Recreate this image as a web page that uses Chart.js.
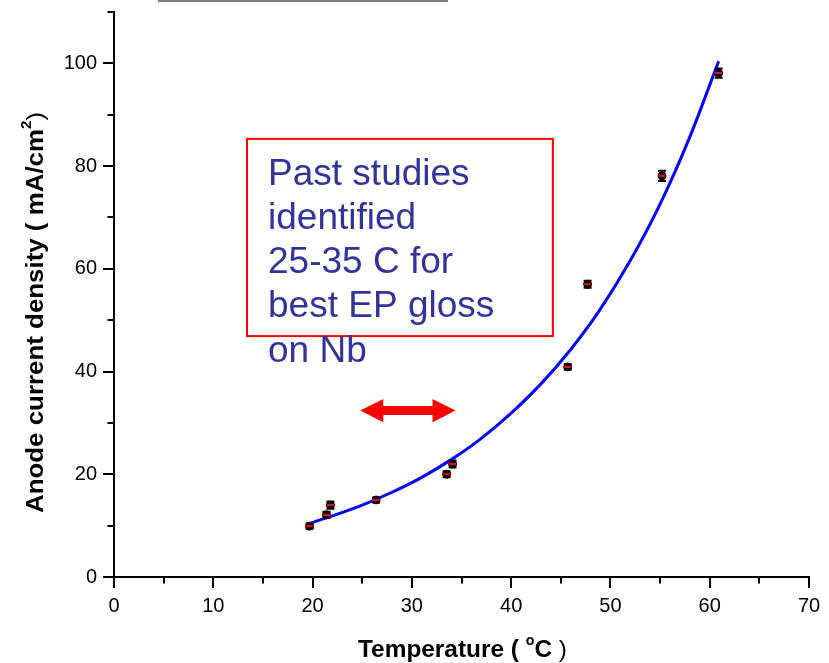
<!DOCTYPE html>
<html>
<head>
<meta charset="utf-8">
<title>Anode current density vs temperature</title>
<script src="https://cdn.jsdelivr.net/npm/chart.js@4.4.0/dist/chart.umd.min.js"></script>
<style>
    html, body { margin: 0; padding: 0; background: #fff; }
    #wrap { width: 829px; height: 663px; }
</style>
</head>
<body>
<div id="wrap"><canvas id="densityChart" width="829" height="663"></canvas></div>
<script>
// --- Data ---
const temperatureC = [19.7, 21.4, 21.8, 26.4, 33.5, 34.1, 45.7, 47.7, 55.2, 60.9];
const currentDensity = [9.9, 12.1, 14.0, 15.0, 20.0, 22.0, 40.9, 57.0, 78.1, 98.1];
const currentError = [0.5, 0.6, 0.7, 0.5, 0.6, 0.7, 0.5, 0.7, 1.0, 0.9];

// fitted curve, sampled along the blue line
const fitTemperature = [19.8, 22, 25, 28, 31, 34, 37, 40, 43, 46, 49, 52, 55, 58, 60.9];
const fitDensity = [10.5, 11.9, 14.0, 16.5, 19.4, 22.9, 27.0, 31.9, 37.6, 44.3, 52.2, 61.6, 72.6, 85.7, 100.4];

// axis ticks
const xMajorTicks = [0, 10, 20, 30, 40, 50, 60, 70];
const xMinorTicks = [5, 15, 25, 35, 45, 55, 65];
const yMajorTicks = [0, 20, 40, 60, 80, 100];
const yMinorTicks = [10, 30, 50, 70, 90, 110];

// note box and arrow
const noteLines = ['Past studies', 'identified', '25-35 C for', 'best EP gloss', 'on Nb'];
const noteBox = { x1: 13.4, x2: 44.2, y1: 85.3, y2: 46.9 };
const arrowSpan = { x1: 24.8, x2: 34.4, y: 32.4 };

const FONT = "'Liberation Sans', Arial, Helvetica, sans-serif";

// draws a list of text pieces on one baseline, stretched to a target length
function drawPieces(ctx, pieces, target) {
    let total = 0;
    pieces.forEach(p => { ctx.font = p.font; p.w = ctx.measureText(p.text).width; total += p.w; });
    const sx = target / total;
    ctx.scale(sx, 1);
    let x = 0;
    pieces.forEach(p => {
        ctx.font = p.font;
        ctx.fillText(p.text, x, p.dy || 0);
        x += p.w;
    });
}

const overlay = {
    id: 'overlay',
    afterDatasetsDraw(chart) {
        const ctx = chart.ctx;
        const xs = chart.scales.x, ys = chart.scales.y;
        ctx.save();
        temperatureC.forEach((t, i) => {
            const px = xs.getPixelForValue(t);
            const pyTop = ys.getPixelForValue(currentDensity[i] + currentError[i]);
            const pyBot = ys.getPixelForValue(currentDensity[i] - currentError[i]);
            const py = ys.getPixelForValue(currentDensity[i]);
            ctx.strokeStyle = '#000';
            ctx.lineWidth = 2;
            ctx.beginPath();
            ctx.moveTo(px - 4, pyTop); ctx.lineTo(px + 4, pyTop);
            ctx.moveTo(px - 4, pyBot); ctx.lineTo(px + 4, pyBot);
            ctx.moveTo(px, pyTop); ctx.lineTo(px, pyBot);
            ctx.stroke();
            ctx.strokeStyle = '#ff0000';
            ctx.beginPath();
            ctx.moveTo(px - 3.5, py); ctx.lineTo(px + 3.5, py);
            ctx.stroke();
        });
        ctx.restore();
    },
    afterDraw(chart) {
        const ctx = chart.ctx;
        const xs = chart.scales.x, ys = chart.scales.y;
        const area = chart.chartArea;
        ctx.save();

        // tick marks (outward)
        ctx.strokeStyle = '#000';
        ctx.lineWidth = 2;
        ctx.beginPath();
        xMajorTicks.forEach(v => { const p = Math.round(xs.getPixelForValue(v)); ctx.moveTo(p, area.bottom); ctx.lineTo(p, area.bottom + 11); });
        xMinorTicks.forEach(v => { const p = Math.round(xs.getPixelForValue(v)); ctx.moveTo(p, area.bottom); ctx.lineTo(p, area.bottom + 6.5); });
        yMajorTicks.forEach(v => { const p = Math.round(ys.getPixelForValue(v)); ctx.moveTo(area.left, p); ctx.lineTo(area.left - 11, p); });
        yMinorTicks.forEach(v => { const p = Math.round(ys.getPixelForValue(v)); ctx.moveTo(area.left, p); ctx.lineTo(area.left - 6.5, p); });
        ctx.stroke();

        // stray gray rule at the very top
        ctx.fillStyle = '#808080';
        ctx.fillRect(158, 0, 290, 2);

        // note box
        const bx1 = xs.getPixelForValue(noteBox.x1), bx2 = xs.getPixelForValue(noteBox.x2);
        const by1 = ys.getPixelForValue(noteBox.y1), by2 = ys.getPixelForValue(noteBox.y2);
        ctx.strokeStyle = '#ff0000';
        ctx.lineWidth = 2;
        ctx.strokeRect(bx1, by1, bx2 - bx1, by2 - by1);
        ctx.fillStyle = '#333399';
        ctx.font = '37px ' + FONT;
        ctx.textBaseline = 'alphabetic';
        ctx.textAlign = 'left';
        noteLines.forEach((line, i) => ctx.fillText(line, bx1 + 21, by1 + 46 + i * 44.2));

        // double-headed arrow
        const ax1 = xs.getPixelForValue(arrowSpan.x1), ax2 = xs.getPixelForValue(arrowSpan.x2);
        const ay = ys.getPixelForValue(arrowSpan.y);
        const head = 23, hh = 11.7, sh = 4.5;
        ctx.fillStyle = '#ff0000';
        ctx.beginPath();
        ctx.moveTo(ax1, ay);
        ctx.lineTo(ax1 + head, ay - hh);
        ctx.lineTo(ax1 + head, ay - sh);
        ctx.lineTo(ax2 - head, ay - sh);
        ctx.lineTo(ax2 - head, ay - hh);
        ctx.lineTo(ax2, ay);
        ctx.lineTo(ax2 - head, ay + hh);
        ctx.lineTo(ax2 - head, ay + sh);
        ctx.lineTo(ax1 + head, ay + sh);
        ctx.lineTo(ax1 + head, ay + hh);
        ctx.closePath();
        ctx.fill();

        // axis titles
        ctx.fillStyle = '#000';
        ctx.save();
        ctx.translate(358, 657);
        drawPieces(ctx, [
            { text: 'Temperature ( ', font: 'bold 24px ' + FONT },
            { text: 'o', font: 'bold 14px ' + FONT, dy: -12 },
            { text: 'C', font: 'bold 24px ' + FONT },
            { text: ' )', font: '24px ' + FONT }
        ], 209);
        ctx.restore();

        ctx.save();
        ctx.translate(43, 513);
        ctx.rotate(-Math.PI / 2);
        drawPieces(ctx, [
            { text: 'Anode current density ( mA/cm', font: 'bold 24px ' + FONT },
            { text: '2', font: 'bold 14px ' + FONT, dy: -12 },
            { text: ')', font: '24px ' + FONT }
        ], 401);
        ctx.restore();

        ctx.restore();
    }
};

const ctx = document.getElementById('densityChart').getContext('2d');
const densityChart = new Chart(ctx, {
    type: 'scatter',
    data: {
        datasets: [
            {
                label: 'Exp fit',
                data: fitTemperature.map((t, i) => ({ x: t, y: fitDensity[i] })),
                showLine: true,
                borderColor: '#0000ff',
                borderWidth: 3,
                pointRadius: 0,
                cubicInterpolationMode: 'monotone',
                order: 0
            },
            {
                label: 'Measured',
                data: temperatureC.map((t, i) => ({ x: t, y: currentDensity[i] })),
                backgroundColor: '#000',
                borderColor: '#000',
                pointRadius: 4,
                borderWidth: 1,
                order: 1
            }
        ]
    },
    options: {
        responsive: false,
        animation: false,
        layout: { padding: { left: 0, top: 12, right: 20, bottom: 0 } },
        plugins: {
            legend: { display: false },
            tooltip: { enabled: false },
            title: { display: false }
        },
        scales: {
            x: {
                type: 'linear',
                min: 0,
                max: 70,
                afterBuildTicks: s => { s.ticks = xMajorTicks.map(v => ({ value: v })); },
                afterFit: s => { s.height = 86; s.paddingLeft = 0; s.paddingRight = 0; s.paddingTop = 0; s.paddingBottom = 0; },
                ticks: { color: '#000', font: { family: FONT, size: 20 }, padding: 17, maxRotation: 0 },
                grid: { display: false, drawTicks: false },
                border: { display: true, color: '#000', width: 2 }
            },
            y: {
                min: 0,
                max: 110,
                afterBuildTicks: s => { s.ticks = yMajorTicks.map(v => ({ value: v })); },
                afterFit: s => { s.width = 114; s.paddingLeft = 0; s.paddingRight = 0; s.paddingTop = 0; s.paddingBottom = 0; },
                ticks: { color: '#000', font: { family: FONT, size: 20 }, padding: 17 },
                grid: { display: false, drawTicks: false },
                border: { display: true, color: '#000', width: 2 }
            }
        }
    },
    plugins: [overlay]
});
</script>
</body>
</html>
